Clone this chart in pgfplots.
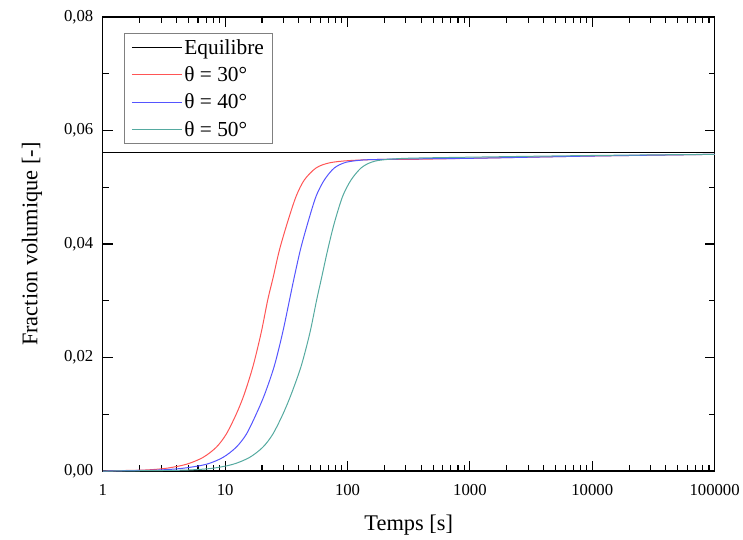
\documentclass[border=0pt]{standalone}
\usepackage{fontspec}
\setmainfont{Liberation Serif}
\usepackage{pgfplots}
\pgfplotsset{compat=1.18}
\definecolor{cred}{RGB}{255,85,85}
\definecolor{cblue}{RGB}{85,85,255}
\definecolor{cteal}{RGB}{85,170,160}
\begin{document}
\begin{tikzpicture}
\begin{axis}[
  scale only axis, width=613bp, height=455bp,
  at={(0,0)}, anchor=south west,
  xmode=log, xmin=1, xmax=100000,
  ymin=0, ymax=0.08,
  xtick={1,10,100,1000,10000,100000},
  xticklabels={1,10,100,1000,10000,100000},
  ytick={0,0.02,0.04,0.06,0.08},
  scaled y ticks=false,
  minor y tick num=1,
  tick align=inside,
  major tick length=10bp, minor tick length=6bp,
  axis line style={line width=1.3bp},
  every tick/.style={line width=1.1bp, black},
  ticklabel style={font=\fontsize{16.8}{19}\selectfont},
  xticklabel style={yshift=-10bp},
  yticklabel style={xshift=-6bp, /pgf/number format/fixed, /pgf/number format/fixed zerofill, /pgf/number format/precision=2, /pgf/number format/use comma, /pgf/number format/assume math mode=true},
  xlabel={Temps [s]}, ylabel={Fraction volumique [-]},
  every axis x label/.style={at={(axis description cs:0.5,-0.118)}, anchor=center, font=\fontsize{22.5}{26}\selectfont},
  every axis y label/.style={at={(axis description cs:-0.1158,0.5)}, anchor=center, rotate=90, font=\fontsize{22.5}{26}\selectfont},
  legend style={at={(axis description cs:0.0343,0.965)}, anchor=north west,
    draw=gray, line width=0.9bp, font=\fontsize{21.5}{25}\selectfont,
    inner xsep=7bp, inner ysep=4bp, row sep=7bp},
  legend cell align=left,
  legend image code/.code={\draw[#1, line width=1.2bp] (0bp,0bp) -- (50bp,0bp);},
]
\addplot[black, line width=0.8bp] coordinates {(1,0.0561) (100000,0.0561)};
\addlegendentry{Equilibre}
\addplot[cred, line width=1bp, smooth] coordinates {
(1,0.0000) (1.5,0.0001) (2.27,0.0002) (3.31,0.0005) (4.82,0.0012) (6.58,0.0024) (8.46,0.0042) (10.2,0.0065) (12.3,0.0100) (14.3,0.0135) (16.9,0.0185) (19.7,0.0244) (22.3,0.0302) (24.6,0.0340) (27.8,0.0390) (32.5,0.0440) (38.0,0.0484) (44.4,0.0513) (55.3,0.0534) (71.1,0.0543) (103,0.0547) (182,0.0549) (300,0.0549) (1000,0.0551) (10000,0.0555) (100000,0.0558)};
\addlegendentry{θ = 30°}
\addplot[cblue, line width=1bp, smooth] coordinates {
(1,0.0000) (1.8,0.0001) (2.92,0.0002) (4.52,0.0005) (7.01,0.0012) (9.58,0.0024) (12.3,0.0042) (14.9,0.0065) (17.9,0.0100) (21.0,0.0135) (25.2,0.0185) (29.5,0.0244) (33.6,0.0302) (36.4,0.0338) (41.2,0.0390) (47.3,0.0437) (55.3,0.0484) (64.7,0.0513) (78.0,0.0534) (97.2,0.0544) (133,0.0548) (182,0.0549) (300,0.0550) (1000,0.0551) (10000,0.0555) (100000,0.0558)};
\addlegendentry{θ = 40°}
\addplot[cteal, line width=1bp, smooth] coordinates {
(1,0.0000) (3,0.0001) (5.1,0.0002) (7.9,0.0005) (11.6,0.0012) (15.8,0.0024) (20.3,0.0042) (24.5,0.0065) (29.6,0.0100) (34.6,0.0135) (41.8,0.0185) (49.3,0.0244) (56.0,0.0302) (61.0,0.0338) (68.9,0.0390) (78.0,0.0437) (91.2,0.0484) (107,0.0513) (129,0.0534) (156,0.0544) (190,0.0548) (300,0.0551) (1000,0.0553) (10000,0.0556) (100000,0.0558)};
\addlegendentry{θ = 50°}
\end{axis}
\path (-103bp,-69bp) rectangle (640bp,472bp);
\end{tikzpicture}
\end{document}
